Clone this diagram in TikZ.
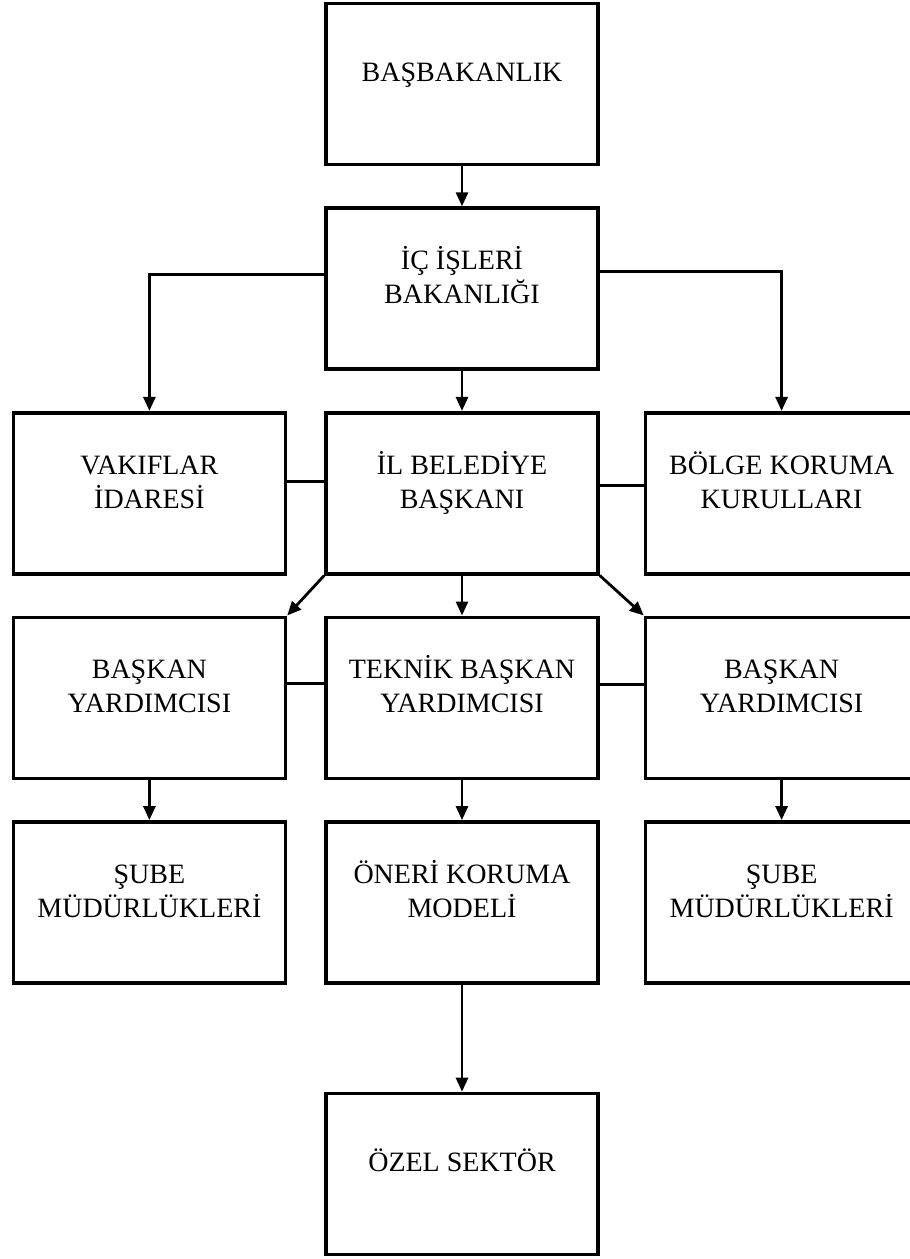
\documentclass[tikz,border=0pt]{standalone}
\usepackage{fontspec}
\setmainfont{Liberation Serif}
\usepackage{tikz}
\usetikzlibrary{arrows.meta,positioning}
\newcommand{\bt}[1]{\raisebox{9pt}[\height][\depth]{\begin{tabular}{@{}c@{}}#1\end{tabular}}}

\begin{document}
\begin{tikzpicture}[x=1pt, y=1pt,
      ob/.style={draw=black, line width=3.6pt, minimum width=272pt, minimum height=161pt,
                 inner sep=0pt, font=\fontsize{28}{34}\selectfont},
      oarr/.style={-{Triangle[length=14pt,width=12pt]}, line width=2.8pt},
      oln/.style={line width=2.8pt}]
    \useasboundingbox (0,0) rectangle (910,-1259);
    \node[ob] (bb) at (462,-84) {\bt{BAŞBAKANLIK}};
    \node[ob, below=40pt of bb] (ic) {\bt{İÇ İŞLERİ\\BAKANLIĞI}};
    \node[ob, below=40pt of ic] (il) {\bt{İL BELEDİYE\\BAŞKANI}};
    \node[ob, left=37pt of il] (vak) {\bt{VAKIFLAR\\İDARESİ}};
    \node[ob, right=44pt of il] (bolge) {\bt{BÖLGE KORUMA\\KURULLARI}};
    \node[ob, below=40pt of il] (tek) {\bt{TEKNİK BAŞKAN\\YARDIMCISI}};
    \node[ob, left=37pt of tek] (byl) {\bt{BAŞKAN\\YARDIMCISI}};
    \node[ob, right=44pt of tek] (byr) {\bt{BAŞKAN\\YARDIMCISI}};
    \node[ob, below=40pt of tek] (oneri) {\bt{ÖNERİ KORUMA\\MODELİ}};
    \node[ob, left=37pt of oneri] (subl) {\bt{ŞUBE\\MÜDÜRLÜKLERİ}};
    \node[ob, right=44pt of oneri] (subr) {\bt{ŞUBE\\MÜDÜRLÜKLERİ}};
    \node[ob, below=107pt of oneri] (ozel) {\bt{ÖZEL SEKTÖR}};
    \draw[oarr] (bb) -- (ic);
    \draw[oarr] ([yshift=14pt]ic.west) -| (vak.north);
    \draw[oarr] ([yshift=17pt]ic.east) -| (bolge.north);
    \draw[oarr] (ic) -- (il);
    \draw[oln] ([yshift=12pt]vak.east) -- ([yshift=12pt]il.west);
    \draw[oln] ([yshift=8pt]il.east) -- ([yshift=8pt]bolge.west);
    \draw[oarr] (il.south west) -- (byl.north east);
    \draw[oarr] (il) -- (tek);
    \draw[oarr] (il.south east) -- (byr.north west);
    \draw[oln] ([yshift=14pt]byl.east) -- ([yshift=14pt]tek.west);
    \draw[oln] ([yshift=13pt]tek.east) -- ([yshift=13pt]byr.west);
    \draw[oarr] (byl) -- (subl);
    \draw[oarr] (tek) -- (oneri);
    \draw[oarr] (byr) -- (subr);
    \draw[oarr] (oneri) -- (ozel);
  \end{tikzpicture}
\end{document}
